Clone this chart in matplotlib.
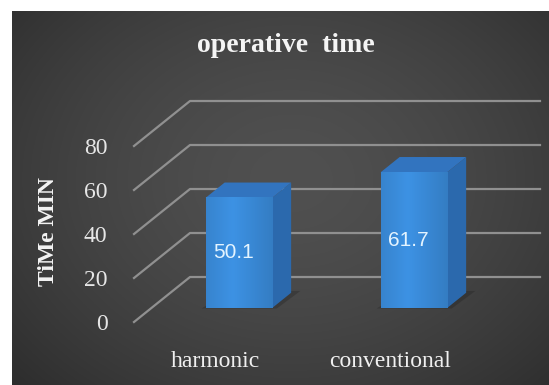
import numpy as np
import matplotlib.pyplot as plt
import matplotlib.transforms as mtransforms
from matplotlib.patches import Polygon
from matplotlib.lines import Line2D

# operative time per technique (minutes)
categories = ['harmonic', 'conventional']
op_time = [50.1, 61.7]
y_ticks = [0, 20, 40, 60, 80]

chart_title = 'operative  time'
y_title = 'TiMe MIN'

W, H = 549, 385
fig = plt.figure(figsize=(W / 100, H / 100), dpi=100)
fig.patch.set_facecolor('white')

# dark panel with a soft radial highlight in the middle
bg = fig.add_axes([12 / W, 0, 1 - 12 / W, 1 - 11 / H])
gy, gx = np.mgrid[0:1:300j, 0:1:400j]
r = np.sqrt(((gx - 0.52) / 0.75) ** 2 + ((gy - 0.45) / 0.85) ** 2)
level = (42 + 38 * np.clip(1 - r ** 1.6, 0, 1)) / 255
bg.imshow(np.dstack([level, level, level]), extent=(0, 1, 0, 1), aspect='auto')
bg.set_axis_off()

# front plane of the 3-D box: categories along x, minutes along y
ax = fig.add_axes([134 / W, (H - 322) / H, 350 / W, 176 / H])
ax.patch.set_alpha(0)
ax.set_xlim(-0.5, 1.5)
ax.set_ylim(0, 80)
for s in ax.spines.values():
    s.set_visible(False)

DX, DY = 0.32, 20.45          # depth vector in data units
d0, d1 = 0.31, 0.65           # bar depth range
hw = 0.19                     # half bar width


def proj(x, y, d):
    return (x + d * DX, y + d * DY)


grid_col = '#909090'
for v in y_ticks:
    p0 = proj(-0.5, v, 0)
    p1 = proj(-0.5, v, 1)
    p2 = proj(1.5, v, 1)
    ax.add_line(Line2D([p0[0], p1[0], p2[0]], [p0[1], p1[1], p2[1]],
                       color=grid_col, lw=1.6, clip_on=False, zorder=1))

for i, v in enumerate(op_time):
    xl, xr = i - hw, i + hw
    # soft shadow on the floor
    shadow = [proj(xl - 0.02, 0, d0 - 0.01), proj(xr + 0.03, 0, d0 - 0.01),
              proj(xr + 0.04, 0, d1 + 0.04), proj(xl + 0.02, 0, d1 + 0.04)]
    ax.add_patch(Polygon(shadow, closed=True, fc='#1e1e1e', ec='none',
                         alpha=0.3, clip_on=False, zorder=2))
    side = [proj(xr, 0, d0), proj(xr, 0, d1), proj(xr, v, d1), proj(xr, v, d0)]
    top = [proj(xl, v, d0), proj(xr, v, d0), proj(xr, v, d1), proj(xl, v, d1)]
    ax.add_patch(Polygon(side, closed=True, fc='#2b69ad', ec='none',
                         clip_on=False, zorder=3))
    ax.add_patch(Polygon(top, closed=True, fc='#3274bf', ec='none',
                         clip_on=False, zorder=3))
    # front face with a gentle horizontal gradient
    fl, fb = proj(xl, 0, d0)
    fr, ft = proj(xr, v, d0)
    t = np.linspace(0, 1, 64)
    shade = 1 - 0.12 * np.abs(t - 0.4) * 2
    base = np.array([0x3d, 0x92, 0xe4]) / 255
    grad = (shade[None, :, None] * base[None, None, :])
    ax.imshow(grad, extent=(fl, fr, fb, ft), aspect='auto', zorder=4,
              interpolation='bilinear', clip_on=False)
    ax.text((fl + fr) / 2 - 0.03, (fb + ft) / 2, f'{v}', ha='center',
            va='center', color='#e4f4ff', fontsize=15,
            family=['Liberation Sans', 'DejaVu Sans'], zorder=5)

ax.set_xlim(-0.5, 1.5)
ax.set_ylim(0, 80)

serif = ['Liberation Serif', 'DejaVu Serif']
ax.set_yticks(y_ticks)
ax.set_yticklabels([str(v) for v in y_ticks], family=serif, fontsize=17,
                   color='#e6e6e6')
ax.set_xticks(range(len(categories)))
ax.set_xticklabels(categories, family=serif, fontsize=17, color='#f0f0f0')
ax.tick_params(axis='y', length=0, pad=19)
ax.tick_params(axis='x', length=0, pad=21)
# category names sit a little left of the slot centres
shift = mtransforms.ScaledTranslation(-6 / 100, 0, fig.dpi_scale_trans)
for lbl in ax.get_xticklabels():
    lbl.set_transform(lbl.get_transform() + shift)

fig.text(286 / W, 1 - 45 / H, chart_title, ha='center', va='center',
         family=serif, fontsize=20, fontweight='bold', color='#f4f4f4')
fig.text(49 / W, 1 - 232 / H, y_title, ha='center', va='center',
         rotation=90, family=serif, fontsize=17, fontweight='bold',
         color='#f4f4f4')

fig.savefig('out.png', dpi=100, facecolor=fig.get_facecolor())
